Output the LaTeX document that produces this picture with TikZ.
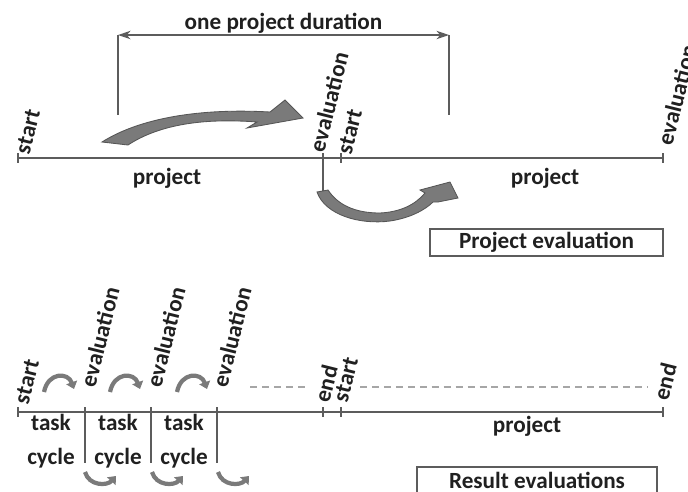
\documentclass[tikz,border=0pt]{standalone}
\usepackage{fontspec}
\setmainfont{Carlito}
\usetikzlibrary{arrows.meta,positioning}
\definecolor{lineg}{HTML}{5C5C5C}
\definecolor{arrfill}{HTML}{7A7A7A}
\definecolor{arredge}{HTML}{555555}
\definecolor{txtg}{HTML}{202020}

\begin{document}
\begin{tikzpicture}[
  x=0.25mm, y=-0.25mm,
  font=\fontsize{16.5}{20}\selectfont\bfseries,
  text=txtg,
  axis/.style      = {draw=lineg, line width=1.8pt},
  tickline/.style  = {draw=lineg, line width=1.1pt},
  tag/.style       = {rotate=76, anchor=west, inner sep=1pt},
  lbl/.style       = {inner sep=1pt},
  dim/.style       = {draw=lineg, line width=0.9pt},
  dimarr/.style    = {dim, {Stealth[length=9pt,width=6pt]}-{Stealth[length=9pt,width=6pt]}},
  fatarrow/.style  = {fill=arrfill, draw=arredge, line width=0.6pt},
  minarrow/.style  = {draw=arrfill, line width=3pt,
                      -{Triangle[length=5pt,width=8pt]}},
  dashline/.style  = {draw=gray!70, line width=1pt, dash pattern=on 5pt off 3.5pt},
  legend/.style    = {draw=lineg, line width=0.9pt, minimum width=233*0.25mm,
                      minimum height=27*0.25mm, inner sep=0pt},
]
\useasboundingbox (0,0) rectangle (688,491);

% ---------- upper time line: one project ----------
\coordinate (pA) at (18,158);
\coordinate (pB) at (323,158);
\coordinate (pC) at (341,158);
\coordinate (pD) at (663,158);
\draw[axis] (pA) -- (pD);
\foreach \c in {pA,pC,pD}
  \draw[tickline] (\c) ++(0,-5) -- ++(0,10);
\coordinate (pBlow) at (323,192);
\draw[tickline] (pB) ++(0,-5) -- (pBlow);

\node[tag] (startA) at (22,155) {start};
\node[tag] (evalA)  at (316,153) {evaluation};
\node[tag] (startB) at (344,155) {start};
\node[tag] (evalB)  at (664,146) {evaluation};

\node[lbl] (projA) at (167,178) {project};
\node[lbl] (projB) at (545,178) {project};

% dimension: one project duration
\coordinate (dL) at (118,35);
\coordinate (dR) at (449,35);
\coordinate (dLb) at (118,115);
\coordinate (dRb) at (449,115);
\draw[dim] (dL) -- (dLb);
\draw[dim] (dR) -- (dRb);
\draw[dimarr] (dL) -- node[above=0pt, lbl] (dur) {one project duration} (dR);

% fat arrows
\fill[fatarrow] (102,142) .. controls (140,118) and (200,108) .. (270,112)
  -- (285,100) -- (303,118) -- (247,128) -- (257,122)
  .. controls (205,118) and (160,124) .. (128,145) -- cycle;
\fill[fatarrow] (317,192) .. controls (325,215) and (360,225) .. (390,221)
  .. controls (410,218) and (425,210) .. (433,202)
  -- (438,202) -- (458,198) -- (450,182) -- (420,190) -- (425,193)
  .. controls (415,205) and (400,212) .. (380,213)
  .. controls (355,213) and (338,205) .. (328,190) -- cycle;

\node[legend] (boxA) at (546.5,242.5) {Project evaluation};

% ---------- lower time line: task cycles ----------
\coordinate (qA) at (18,412);
\coordinate (qB) at (85,412);
\coordinate (qC) at (151,412);
\coordinate (qD) at (217,412);
\coordinate (qE) at (323,412);
\coordinate (qF) at (341,412);
\coordinate (qG) at (663,412);
\draw[axis] (qA) -- (qG);
\foreach \c in {qA,qE,qF,qG}
  \draw[tickline] (\c) ++(0,-5) -- ++(0,10);
\foreach \c in {qB,qC,qD}
  \draw[tickline] (\c) ++(0,-5) -- ++(0,56);

\node[tag] (startC) at (21,405) {start};
\node[tag] (evalC)  at (87,388) {evaluation};
\node[tag] (evalD)  at (153,388) {evaluation};
\node[tag] (evalE)  at (219,388) {evaluation};
\node[tag] (endA)   at (321,403) {end};
\node[tag] (startD) at (340,403) {start};
\node[tag] (endB)   at (660,401) {end};

\foreach \x/\n in {51/1,118/2,184/3}
  \node[lbl, align=center] (task\n) at (\x,441) {task\\[4pt]cycle};
\node[lbl] (projC) at (527,426) {project};

% small cycle arrows
\foreach \x in {44,110,177}
  \draw[minarrow] (\x,392) .. controls (\x+4,372) and (\x+24,372) .. (\x+30,389);
\foreach \x in {85,152,218}
  \draw[minarrow] (\x,472) .. controls (\x+4,486) and (\x+22,486) .. (\x+31,476);

% open continuation
\draw[dashline] (250,387) -- (307,387);
\draw[dashline] (360,387) -- (647,387);

\node[legend, minimum width=240*0.25mm] (boxB) at (537,480.5) {Result evaluations};
\end{tikzpicture}
\end{document}
